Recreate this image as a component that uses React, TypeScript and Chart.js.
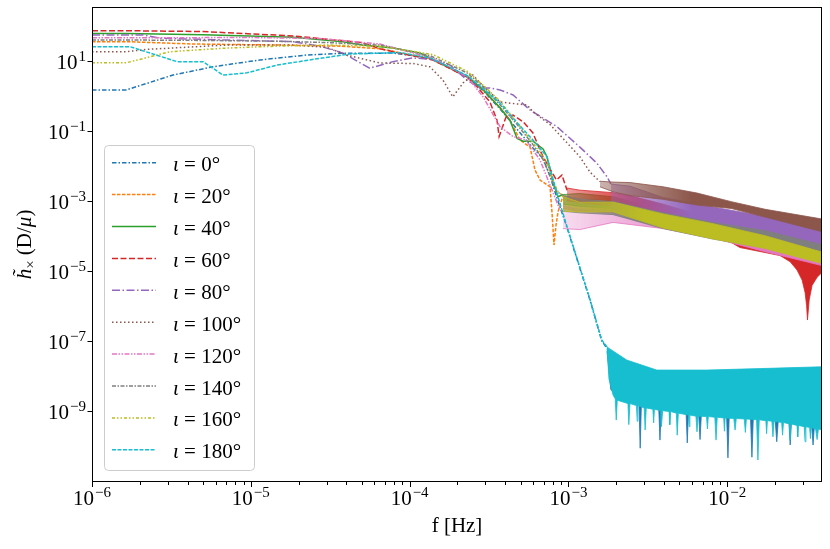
import { useEffect, useRef } from "react";
import Chart from "chart.js/auto";

// inclination of each curve, tab10 colours, matplotlib-like dash styles
const ANGLES = [0, 20, 40, 60, 80, 100, 120, 140, 160, 180];
const COLORS = ["#1f77b4", "#ff7f0e", "#2ca02c", "#d62728", "#9467bd", "#8c564b", "#e377c2", "#7f7f7f", "#bcbd22", "#17becf"];
const DASHES = [
  [4.5, 2, 1.5, 2],
  [3.5, 1.5],
  [],
  [6, 2.5],
  [8, 2.5, 1.5, 2.5],
  [1.5, 2.5],
  [5, 1.5, 1.5, 1.5, 1.5, 1.5],
  [4, 1.5, 1.5, 1.5],
  [3, 2, 1.5, 2, 1.5, 2],
  [4, 1.5],
];

// axis limits and labelled decades
const X_MIN = 1e-6;
const X_MAX = 3.95e-2;
const Y_MIN = 9.2e-12;
const Y_MAX = 342;
const X_DECADES = [-6, -5, -4, -3, -2];
const Y_DECADES = [-9, -7, -5, -3, -1, 1];

// resolved part of each curve: f [Hz] and amplitude
const F_0 = [1e-6, 1.64e-6, 3.24e-6, 5.78e-6, 1.14e-5, 2.25e-5, 3.65e-5, 7.86e-5, 1.34e-4, 2.3e-4, 2.9e-4, 3.71e-4, 4.75e-4, 5.98e-4, 6.92e-4, 7.66e-4, 8.47e-4, 9.8e-4, 1.13e-3, 1.37e-3, 1.62e-3, 1.75e-3];
const H_0 = [1.46, 1.46, 3.9, 6.7, 10.5, 14.5, 16.2, 16.5, 12, 3.4, 1.4, 0.42, 0.11, 0.032, 0.016, 0.005, 0.0012, 1.7e-4, 2.2e-5, 1.4e-6, 1.0e-7, 6e-8];
const F_20 = [1e-6, 1.64e-6, 4.33e-6, 1.46e-5, 3.65e-5, 6.5e-5, 1.34e-4, 2.3e-4, 2.9e-4, 3.71e-4, 4.28e-4, 4.96e-4, 5.73e-4, 6.16e-4, 6.62e-4, 7.66e-4, 7.9e-4, 8.11e-4, 8.35e-4, 8.6e-4, 9.25e-4];
const H_20 = [35, 35, 30, 28, 26, 22, 11.5, 3.5, 1.45, 0.45, 0.2, 0.054, 0.034, 0.0075, 0.0039, 0.0025, 3.9e-4, 5.4e-5, 2e-4, 4.8e-4, 1.4e-3];
const F_40 = [1e-6, 1.64e-6, 5e-6, 1.85e-5, 3.81e-5, 5e-5, 7.86e-5, 1.16e-4, 1.4e-4, 2.3e-4, 2.9e-4, 3.71e-4, 4.28e-4, 4.75e-4, 5.18e-4, 5.98e-4, 6.92e-4, 7.33e-4, 8.0e-4, 8.6e-4, 9.25e-4];
const H_40 = [60, 60, 55, 47, 35, 28, 23, 16.5, 11, 3.6, 1.5, 0.45, 0.2, 0.06, 0.05, 0.05, 0.03, 0.018, 0.0032, 0.0013, 1.5e-3];
const F_60 = [1e-6, 1.64e-6, 5e-6, 1.85e-5, 5e-5, 6.5e-5, 8.7e-5, 1.4e-4, 2.3e-4, 2.66e-4, 3.2e-4, 3.55e-4, 3.66e-4, 4.05e-4, 4.48e-4, 5.18e-4, 5.98e-4, 6.62e-4, 6.92e-4, 8.4e-4, 9.1e-4, 9.8e-4];
const H_60 = [72, 72, 68, 51, 33, 22, 16.3, 10.5, 3.4, 1.8, 0.67, 0.2, 0.068, 0.25, 0.28, 0.18, 0.086, 0.028, 0.018, 0.0039, 0.0054, 0.002];
const F_80 = [1e-6, 2.1e-6, 2.68e-6, 7.08e-6, 1.85e-5, 2.73e-5, 3.81e-5, 5.6e-5, 7.86e-5, 1.05e-4, 1.34e-4, 1.8e-4, 2.3e-4, 2.77e-4, 3.2e-4, 3.71e-4, 4.48e-4, 5.73e-4, 8.47e-4, 1.18e-3, 1.51e-3, 1.75e-3, 1.85e-3];
const H_80 = [54, 54, 44, 39, 35, 26, 16.5, 6.1, 9.4, 12, 11, 7.5, 2.8, 1.66, 1.66, 1.46, 1.05, 0.39, 0.13, 0.034, 0.0118, 0.0048, 0.003];
const F_100 = [1e-6, 1.64e-6, 2.2e-6, 7.08e-6, 1.85e-5, 3.02e-5, 4.0e-5, 6.5e-5, 1.05e-4, 1.34e-4, 1.62e-4, 1.87e-4, 2.17e-4, 2.5e-4, 2.9e-4, 3.71e-4, 5.49e-4, 5.98e-4, 7.66e-4, 9.8e-4, 1.18e-3, 1.37e-3, 1.58e-3];
const H_100 = [18, 18, 21, 28, 28, 24, 14.5, 8.6, 8.3, 6.7, 2.8, 0.93, 2.3, 3.9, 1.9, 0.66, 0.54, 0.35, 0.15, 0.045, 0.018, 0.0065, 0.0035];
const F_120 = [1e-6, 1.64e-6, 9.9e-6, 2.73e-5, 6.5e-5, 1.4e-4, 2.3e-4, 2.9e-4, 3.71e-4, 4.48e-4, 5.4e-4, 6.62e-4, 7.66e-4, 8.85e-4, 9.25e-4];
const H_120 = [45, 45, 46, 43, 30, 11.7, 3.5, 0.93, 0.13, 0.068, 0.054, 0.0146, 0.0028, 5.4e-4, 5e-4];
const F_140 = [1e-6, 1.64e-6, 5e-6, 1.46e-5, 3.02e-5, 6.5e-5, 1.34e-4, 2.3e-4, 2.9e-4, 3.71e-4, 4.75e-4, 5.98e-4, 6.92e-4, 7.66e-4, 8.47e-4, 9.25e-4];
const H_140 = [39, 39, 38, 36, 33, 28, 14, 4.5, 1.8, 0.55, 0.15, 0.04, 0.015, 0.005, 0.0018, 1.4e-3];
const F_160 = [1e-6, 1.64e-6, 3.1e-6, 4.33e-6, 7.08e-6, 1.46e-5, 3.02e-5, 6.5e-5, 1.4e-4, 2.3e-4, 2.9e-4, 3.71e-4, 4.75e-4, 5.98e-4, 7.33e-4, 8.0e-4, 8.47e-4, 9.25e-4];
const H_160 = [8.7, 8.7, 18, 20, 23, 26, 28, 26, 15, 5, 2.0, 0.7, 0.17, 0.045, 0.012, 0.004, 0.002, 1.3e-3];
const F_180 = [1e-6, 1.74e-6, 3.43e-6, 5.0e-6, 6.68e-6, 9.46e-6, 1.46e-5, 2.73e-5, 4.2e-5, 8.7e-5, 1.34e-4, 2.3e-4, 2.9e-4, 3.71e-4, 4.75e-4, 5.98e-4, 7.33e-4, 8.47e-4, 9.8e-4, 1.13e-3, 1.37e-3, 1.62e-3, 1.75e-3];
const H_180 = [25, 25, 9.4, 9.4, 3.9, 4.5, 7.5, 11.7, 15.5, 17, 12, 3.8, 1.6, 0.62, 0.17, 0.054, 0.018, 0.0016, 1.8e-4, 2.3e-5, 1.46e-6, 1.05e-7, 6.6e-8];

// dense oscillating tails, drawn as bands between an upper and a lower envelope
const BAND_F = [9.25e-4, 1.18e-3, 1.91e-3, 3.94e-3, 8.14e-3, 1.73e-2, 3.95e-2];
const HI_20 = [1.4e-3, 1.1e-3, 1.0e-3, 4.5e-4, 2.2e-4, 1.0e-4, 4e-5];
const LO_20 = [6e-4, 5e-4, 4.5e-4, 2.0e-4, 9e-5, 4.5e-5, 1.8e-5];
const HI_40 = [1.5e-3, 1.6e-3, 1.3e-3, 5.5e-4, 2.8e-4, 1.3e-4, 5e-5];
const LO_40 = [8e-4, 7e-4, 6e-4, 2.5e-4, 1.2e-4, 5.5e-5, 2.2e-5];
const HI_120 = [7e-4, 5.5e-4, 5e-4, 2.8e-4, 1.5e-4, 7e-5, 2.8e-5];
const LO_120 = [1.6e-4, 1.5e-4, 2.4e-4, 1.6e-4, 8.5e-5, 3.5e-5, 1.4e-5];
const HI_140 = [1.4e-3, 1.1e-3, 9.5e-4, 4.5e-4, 2.4e-4, 1.4e-4, 5.5e-5];
const LO_140 = [5e-4, 4.5e-4, 4e-4, 1.6e-4, 8e-5, 4.5e-5, 2.8e-5];
const HI_160 = [1.3e-3, 9e-4, 9.1e-4, 4.2e-4, 2.2e-4, 1.0e-4, 3.4e-5];
const LO_160 = [5e-4, 4.8e-4, 4.8e-4, 1.66e-4, 8.1e-5, 4.3e-5, 1.6e-5];

const BAND_F_60 = [9.8e-4, 1.18e-3, 1.91e-3, 2.44e-3, 3.94e-3, 8.14e-3, 1.2e-2, 1.73e-2, 2.15e-2, 2.49e-2, 2.75e-2, 2.96e-2, 3.09e-2, 3.16e-2, 3.2e-2, 3.28e-2, 3.42e-2, 3.68e-2, 3.95e-2];
const HI_60 = [2.3e-3, 2.0e-3, 1.7e-3, 1.4e-3, 8e-4, 3e-4, 1.6e-4, 1.1e-4, 8e-5, 7e-5, 6e-5, 5.5e-5, 5.2e-5, 5e-5, 5e-5, 4.8e-5, 4.6e-5, 4.3e-5, 4e-5];
const LO_60 = [1.0e-3, 9e-4, 7e-4, 5.5e-4, 3.2e-4, 1.3e-4, 4.6e-5, 3.3e-5, 2.7e-5, 1.8e-5, 1.05e-5, 5.4e-6, 2.4e-6, 1.0e-6, 3.9e-7, 1.46e-6, 3.8e-6, 6.5e-6, 8.9e-6];

const BAND_F_80 = [1.85e-3, 2.44e-3, 3.94e-3, 8.14e-3, 1.73e-2, 3.95e-2];
const HI_80 = [3.0e-3, 2.6e-3, 1.24e-3, 6.6e-4, 3.6e-4, 1.7e-4];
const LO_80 = [5.4e-4, 4e-4, 2.8e-4, 2.0e-4, 1.15e-4, 4.8e-5];

const BAND_F_100 = [1.58e-3, 1.91e-3, 2.44e-3, 3.94e-3, 6.45e-3, 1.06e-2, 1.73e-2, 3.95e-2];
const HI_100 = [3.6e-3, 3.4e-3, 3.3e-3, 2.5e-3, 1.66e-3, 9.4e-4, 5.7e-4, 3.0e-4];
const LO_100 = [2.5e-3, 1.8e-3, 1.4e-3, 1.1e-3, 7.5e-4, 6e-4, 3.4e-4, 1.3e-4];

// noise floor of the 0° and 180° curves
const HI_F_0 = [1.75e-3, 2.33e-3, 3.6e-3, 3.95e-2];
const HI_0 = [6e-8, 2.2e-8, 1.2e-8, 1.4e-8];
const LO_F_0 = [1.75e-3, 1.85e-3, 2.1e-3, 2.78e-3, 2.83e-3, 2.88e-3, 3.7e-3, 3.77e-3, 3.84e-3, 5.5e-3, 5.6e-3, 5.7e-3, 6.6e-3, 6.74e-3, 6.88e-3, 9.9e-3, 1.01e-2, 1.03e-2, 1.4e-2, 1.43e-2, 1.46e-2, 2.0e-2, 2.05e-2, 2.1e-2, 2.44e-2, 2.49e-2, 2.54e-2, 3.4e-2, 3.47e-2, 3.54e-2, 3.95e-2];
const LO_0 = [5e-8, 4e-9, 2.5e-9, 1.6e-9, 8.5e-11, 1.6e-9, 1.3e-9, 1.45e-10, 1.3e-9, 1.0e-9, 1.2e-10, 1.0e-9, 9e-10, 1.5e-10, 9e-10, 8e-10, 4.5e-11, 8e-10, 7e-10, 4.7e-11, 7e-10, 6e-10, 1.3e-10, 6e-10, 5.5e-10, 1.05e-10, 5.5e-10, 4e-10, 1.05e-10, 4e-10, 3.8e-10];
const HI_F_180 = [1.75e-3, 2.33e-3, 3.6e-3, 7.43e-3, 1.61e-2, 3.95e-2];
const HI_180 = [6.6e-8, 2.8e-8, 1.45e-8, 1.45e-8, 1.6e-8, 1.8e-8];
const LO_F_180 = [1.75e-3, 1.8e-3, 1.91e-3, 1.97e-3, 2.0e-3, 2.03e-3, 2.37e-3, 2.4e-3, 2.44e-3, 2.68e-3, 2.71e-3, 2.74e-3, 3.0e-3, 3.04e-3, 3.09e-3, 3.4e-3, 3.44e-3, 3.48e-3, 3.8e-3, 3.85e-3, 3.92e-3, 4.3e-3, 4.35e-3, 4.4e-3, 4.78e-3, 4.84e-3, 4.92e-3, 5.7e-3, 5.76e-3, 5.82e-3, 6.35e-3, 6.45e-3, 6.55e-3, 7.4e-3, 7.5e-3, 7.6e-3, 8.35e-3, 8.5e-3, 8.65e-3, 9.5e-3, 9.6e-3, 9.7e-3, 1.1e-2, 1.12e-2, 1.14e-2, 1.28e-2, 1.3e-2, 1.32e-2, 1.53e-2, 1.56e-2, 1.59e-2, 1.75e-2, 1.77e-2, 1.79e-2, 1.91e-2, 1.94e-2, 1.97e-2, 2.2e-2, 2.23e-2, 2.26e-2, 2.46e-2, 2.49e-2, 2.52e-2, 2.75e-2, 2.78e-2, 2.81e-2, 3.05e-2, 3.09e-2, 3.13e-2, 3.3e-2, 3.34e-2, 3.38e-2, 3.6e-2, 3.68e-2, 3.75e-2, 3.95e-2];
const LO_180 = [6e-8, 8e-9, 2.8e-9, 2.2e-9, 5.4e-10, 2.0e-9, 1.6e-9, 4e-10, 1.6e-9, 1.4e-9, 5e-10, 1.4e-9, 1.2e-9, 2.8e-10, 1.2e-9, 1.1e-9, 4.5e-10, 1.1e-9, 1.0e-9, 3.5e-10, 1.0e-9, 9.5e-10, 4e-10, 9.5e-10, 8.5e-10, 2.0e-10, 8.5e-10, 7.5e-10, 3.5e-10, 7.5e-10, 7e-10, 2.5e-10, 7e-10, 6.8e-10, 3e-10, 6.8e-10, 6.5e-10, 1.45e-10, 6.5e-10, 6.2e-10, 2.6e-10, 6.2e-10, 6e-10, 2.8e-10, 6e-10, 5.8e-10, 2.4e-10, 5.8e-10, 5.5e-10, 3.9e-11, 5.5e-10, 5.2e-10, 2.2e-10, 5.2e-10, 5e-10, 1.8e-10, 5e-10, 4.6e-10, 2e-10, 4.6e-10, 4.2e-10, 1.45e-10, 4.2e-10, 3.8e-10, 1.8e-10, 3.8e-10, 3.5e-10, 1.3e-10, 3.5e-10, 3.3e-10, 1.6e-10, 3.3e-10, 3e-10, 1.5e-10, 3e-10, 2.8e-10];

const SERIES = [
  { f: F_0, h: H_0, hiF: HI_F_0, hi: HI_0, loF: LO_F_0, lo: LO_0 },
  { f: F_20, h: H_20, hiF: BAND_F, hi: HI_20, loF: BAND_F, lo: LO_20 },
  { f: F_40, h: H_40, hiF: BAND_F, hi: HI_40, loF: BAND_F, lo: LO_40 },
  { f: F_60, h: H_60, hiF: BAND_F_60, hi: HI_60, loF: BAND_F_60, lo: LO_60 },
  { f: F_80, h: H_80, hiF: BAND_F_80, hi: HI_80, loF: BAND_F_80, lo: LO_80 },
  { f: F_100, h: H_100, hiF: BAND_F_100, hi: HI_100, loF: BAND_F_100, lo: LO_100 },
  { f: F_120, h: H_120, hiF: BAND_F, hi: HI_120, loF: BAND_F, lo: LO_120 },
  { f: F_140, h: H_140, hiF: BAND_F, hi: HI_140, loF: BAND_F, lo: LO_140 },
  { f: F_160, h: H_160, hiF: BAND_F, hi: HI_160, loF: BAND_F, lo: LO_160 },
  { f: F_180, h: H_180, hiF: HI_F_180, hi: HI_180, loF: LO_F_180, lo: LO_180 },
];
// where the sparse start of a band becomes solid, and how faint it starts
const FADE_END = [null, 3e-3, 3e-3, 3e-3, 6e-3, 6e-3, 8e-3, 3e-3, 3e-3, null];
const FADE_ALPHA = [1, 0.45, 0.45, 0.45, 0.45, 0.45, 0.25, 0.45, 0.45, 1];

const FONT = "'Liberation Serif', 'DejaVu Serif', serif";

const pts = (f: number[], h: number[]) => f.map((x, k) => ({ x, y: h[k] }));

function withAlpha(hex: string, a: number) {
  const n = parseInt(hex.slice(1), 16);
  return `rgba(${(n >> 16) & 255}, ${(n >> 8) & 255}, ${n & 255}, ${a})`;
}

function fadeFill(color: string, f0: number, f1: number | null, a0: number) {
  if (f1 === null) return color;
  return (c: any) => {
    const chart = c.chart;
    const sx = chart.scales?.x;
    if (!chart.chartArea || !sx) return color;
    const g = chart.ctx.createLinearGradient(sx.getPixelForValue(f0), 0, sx.getPixelForValue(f1), 0);
    g.addColorStop(0, withAlpha(color, a0));
    g.addColorStop(1, color);
    return g;
  };
}

function drawPower(ctx: CanvasRenderingContext2D, exp: number, x: number, baseY: number, align: "center" | "right") {
  const sup = exp < 0 ? "\u2212" + -exp : String(exp);
  ctx.font = `21px ${FONT}`;
  const w1 = ctx.measureText("10").width;
  ctx.font = `15px ${FONT}`;
  const w2 = ctx.measureText(sup).width;
  const x0 = align === "center" ? x - (w1 + w2 + 1) / 2 : x - w1 - w2 - 1;
  ctx.font = `21px ${FONT}`;
  ctx.fillText("10", x0, baseY);
  ctx.font = `15px ${FONT}`;
  ctx.fillText(sup, x0 + w1 + 1, baseY - 8);
}

const decor = {
  id: "decor",
  afterDatasetsDraw(chart: any) {
    const { ctx, chartArea: a } = chart;
    const sx = chart.scales.x;
    const sy = chart.scales.y;
    ctx.save();
    ctx.setLineDash([]);
    ctx.strokeStyle = "#000";
    ctx.fillStyle = "#000";
    ctx.lineWidth = 1;
    ctx.textAlign = "left";
    ctx.textBaseline = "alphabetic";
    ctx.strokeRect(a.left + 0.5, a.top + 0.5, a.right - a.left - 1, a.bottom - a.top - 1);

    for (const e of X_DECADES) {
      for (let k = 1; k <= 9; k++) {
        const v = k * 10 ** e;
        if (v < X_MIN || v > X_MAX) continue;
        const px = Math.round(sx.getPixelForValue(v)) + 0.5;
        ctx.beginPath();
        ctx.moveTo(px, a.bottom);
        ctx.lineTo(px, a.bottom + (k === 1 ? 5 : 3));
        ctx.stroke();
      }
      drawPower(ctx, e, sx.getPixelForValue(10 ** e), a.bottom + 23, "center");
    }
    for (const e of Y_DECADES) {
      const py = Math.round(sy.getPixelForValue(10 ** e)) + 0.5;
      ctx.beginPath();
      ctx.moveTo(a.left - 4.5, py);
      ctx.lineTo(a.left, py);
      ctx.stroke();
      drawPower(ctx, e, a.left - 6, py + 7, "right");
    }

    // axis titles
    ctx.font = `21px ${FONT}`;
    ctx.textAlign = "center";
    ctx.fillText("f [Hz]", (a.left + a.right) / 2, 532);
    ctx.textAlign = "left";
    ctx.save();
    ctx.translate(31, (a.top + a.bottom) / 2);
    ctx.rotate(-Math.PI / 2);
    const parts: [string, string, number][] = [
      ["h\u0303", `italic 21px ${FONT}`, 0],
      ["\u00d7", `15px ${FONT}`, 4],
      [" (D/", `21px ${FONT}`, 0],
      ["\u03bc", `italic 21px ${FONT}`, 0],
      [")", `21px ${FONT}`, 0],
    ];
    let total = 0;
    const widths = parts.map(([t, f]) => {
      ctx.font = f;
      const w = ctx.measureText(t).width;
      total += w;
      return w;
    });
    let cx = -total / 2;
    parts.forEach(([t, f, dy], i) => {
      ctx.font = f;
      ctx.fillText(t, cx, dy);
      cx += widths[i];
    });
    ctx.restore();

    // legend
    ctx.beginPath();
    ctx.roundRect(104.5, 145.5, 150, 325, 4);
    ctx.fillStyle = "rgba(255,255,255,0.8)";
    ctx.fill();
    ctx.strokeStyle = "#cccccc";
    ctx.stroke();
    ANGLES.forEach((ang, i) => {
      const cy = 162.7 + i * 31.9;
      ctx.strokeStyle = COLORS[i];
      ctx.lineWidth = 1.5;
      ctx.setLineDash(DASHES[i]);
      ctx.beginPath();
      ctx.moveTo(112, cy);
      ctx.lineTo(156, cy);
      ctx.stroke();
      ctx.setLineDash([]);
      ctx.fillStyle = "#000";
      ctx.font = `italic 21px ${FONT}`;
      ctx.fillText("\u03b9", 173, cy + 8.5);
      const w = ctx.measureText("\u03b9").width;
      ctx.font = `21px ${FONT}`;
      ctx.fillText(` = ${ang}\u00b0`, 173 + w, cy + 8.5);
    });
    ctx.restore();
  },
};

export default function App() {
  const canvasRef = useRef<HTMLCanvasElement | null>(null);
  const chartRef = useRef<Chart | null>(null);

  useEffect(() => {
    if (!canvasRef.current) return;
    chartRef.current?.destroy();

    const datasets: any[] = [];
    SERIES.forEach((s, i) => {
      const color = COLORS[i];
      const order = 100 - 10 * i;
      datasets.push({
        label: `\u03b9 = ${ANGLES[i]}\u00b0`,
        data: pts(s.f, s.h),
        borderColor: color,
        borderDash: DASHES[i],
        borderWidth: 1.5,
        pointRadius: 0,
        fill: false,
        order,
      });
      const loIndex = datasets.length + 1;
      datasets.push({
        data: pts(s.hiF, s.hi),
        borderColor: color,
        borderWidth: 0.8,
        backgroundColor: fadeFill(color, s.hiF[0], FADE_END[i], FADE_ALPHA[i]),
        fill: loIndex,
        pointRadius: 0,
        order: order + 1,
      });
      datasets.push({
        data: pts(s.loF, s.lo),
        borderColor: color,
        borderWidth: 0.8,
        pointRadius: 0,
        fill: false,
        order: order + 1,
      });
    });

    chartRef.current = new Chart(canvasRef.current, {
      type: "line",
      data: { datasets },
      plugins: [decor],
      options: {
        responsive: false,
        animation: false,
        events: [],
        layout: { padding: { top: 7, right: 8, left: 0, bottom: 0 } },
        elements: { line: { tension: 0 } },
        plugins: { legend: { display: false }, tooltip: { enabled: false } },
        scales: {
          x: {
            type: "logarithmic",
            min: X_MIN,
            max: X_MAX,
            grid: { display: false },
            border: { display: false },
            ticks: { display: false },
            afterFit: (s: any) => {
              s.height = 67;
            },
          },
          y: {
            type: "logarithmic",
            min: Y_MIN,
            max: Y_MAX,
            grid: { display: false },
            border: { display: false },
            ticks: { display: false },
            afterFit: (s: any) => {
              s.width = 92;
            },
          },
        },
      } as any,
    });

    return () => {
      chartRef.current?.destroy();
      chartRef.current = null;
    };
  }, []);

  return (
    <div style={{ position: "fixed", left: 0, top: 0, width: 830, height: 549, background: "#fff" }}>
      <canvas ref={canvasRef} width={830} height={549} />
    </div>
  );
}
